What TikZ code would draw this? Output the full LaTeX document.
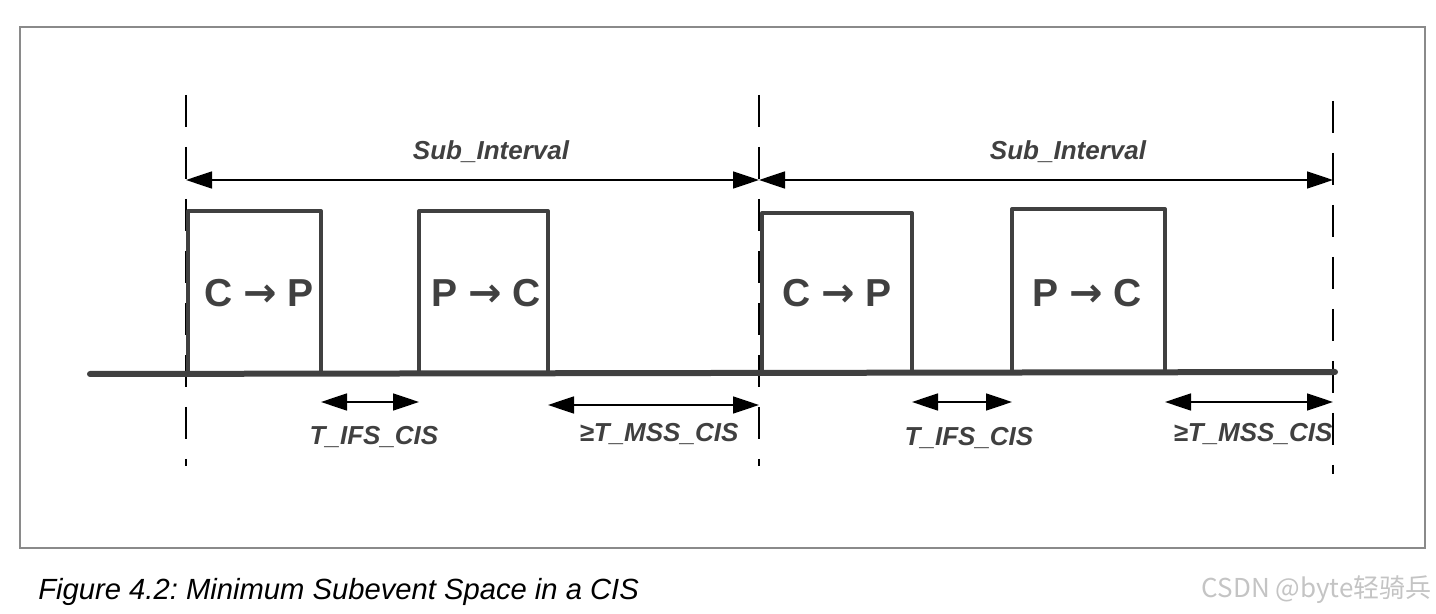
\documentclass[tikz,border=0pt]{standalone}
\usepackage{fontspec}
\setmainfont{Liberation Sans}
\newfontfamily\cjkfont{Noto Sans CJK SC}
\newfontfamily\arrowfont{DejaVu Sans}
\frenchspacing
\usetikzlibrary{arrows.meta}
\definecolor{ink}{HTML}{404040}
\definecolor{framegray}{HTML}{8A8A8A}
\definecolor{wmgray}{HTML}{C4C4C4}
\newcommand{\pktarrow}{{\arrowfont\fontsize{20}{22}\selectfont →}}
\tikzset{
  frameline/.style={draw=framegray,line width=0.7pt},
  guide/.style={draw=black,line width=1pt,dash pattern=on 16pt off 10pt},
  span/.style={draw=black,line width=0.8pt,{Triangle[length=13pt,width=8.5pt]}-{Triangle[length=13pt,width=8.5pt]}},
  pulse/.style={draw=ink,line width=2pt,line join=round},
  axis/.style={draw=ink,line width=3pt,line cap=round},
  lbl/.style={text=ink,font=\fontsize{13}{15}\selectfont\bfseries\itshape,anchor=base,inner sep=0pt},
  pkt/.style={text=ink,font=\fontsize{19.5}{22}\selectfont\bfseries,anchor=base,inner sep=0pt},
}
\begin{document}
\begin{tikzpicture}[x=0.5pt,y=-0.5pt]
\useasboundingbox (0,0) rectangle (1436,614);
% frame
\coordinate (F1) at (20,27);
\coordinate (F2) at (1425,548);
\draw[frameline] (F1) rectangle (F2);
% guide lines
\coordinate (g1t) at (186,95);  \coordinate (g1b) at (186,466);
\coordinate (g2t) at (759,95);  \coordinate (g2b) at (759,466);
\coordinate (g3t) at (1333,101); \coordinate (g3b) at (1333,474);
\draw[guide] (g1t) -- (g1b);
\draw[guide] (g2t) -- (g2b);
\draw[guide] (g3t) -- (g3b);
% sub interval arrows
\coordinate (s0) at (186,180);
\coordinate (s1) at (759,180);
\coordinate (s2) at (1333,180);
\draw[span] (s0) -- (s1);
\draw[span] (s1) -- (s2);
\node[lbl] (si1) at (491,160) {Sub\_Interval};
\node[lbl] (si2) at (1068,160) {Sub\_Interval};
% axis
\coordinate (ax0) at (90,374);
\coordinate (ax1) at (1335,372);
\draw[axis] (ax0) -- (ax1);
% pulses
\coordinate (b1l) at (188,374); \coordinate (b1r) at (321,211);
\coordinate (b2l) at (419,374); \coordinate (b2r) at (548,211);
\coordinate (b3l) at (762,374); \coordinate (b3r) at (912,213);
\coordinate (b4l) at (1012,373); \coordinate (b4r) at (1165,209);
\draw[pulse] (b1l) |- (b1r) -- (b1r |- b1l);
\draw[pulse] (b2l) |- (b2r) -- (b2r |- b2l);
\draw[pulse] (b3l) |- (b3r) -- (b3r |- b3l);
\draw[pulse] (b4l) |- (b4r) -- (b4r |- b4l);
\node[pkt] (p1) at (259,307) {C \pktarrow{} P};
\node[pkt] (p2) at (486,307) {P \pktarrow{} C};
\node[pkt] (p3) at (837,307) {C \pktarrow{} P};
\node[pkt] (p4) at (1087,307) {P \pktarrow{} C};
% gap arrows
\coordinate (i1a) at (321,402); \coordinate (i1b) at (419,402);
\coordinate (m1a) at (548,405); \coordinate (m1b) at (759,405);
\coordinate (i2a) at (912,402); \coordinate (i2b) at (1012,402);
\coordinate (m2a) at (1165,402); \coordinate (m2b) at (1333,402);
\draw[span] (i1a) -- (i1b);
\draw[span] (m1a) -- (m1b);
\draw[span] (i2a) -- (i2b);
\draw[span] (m2a) -- (m2b);
\node[lbl] (t1) at (374,445) {T\_IFS\_CIS};
\node[lbl] (t2) at (659,442) {≥T\_MSS\_CIS};
\node[lbl] (t3) at (969,446) {T\_IFS\_CIS};
\node[lbl] (t4) at (1253,442) {≥T\_MSS\_CIS};
% caption
\node[anchor=base west,inner sep=0pt,font=\fontsize{14.6}{17}\selectfont\itshape] (cap) at (38,600) {Figure 4.2: Minimum Subevent Space in a CIS};
\node[anchor=base east,inner sep=0pt,text=wmgray,font=\cjkfont\fontsize{13}{15}\selectfont] (wm) at (1432,597) {CSDN @byte轻骑兵};
\end{tikzpicture}
\end{document}
